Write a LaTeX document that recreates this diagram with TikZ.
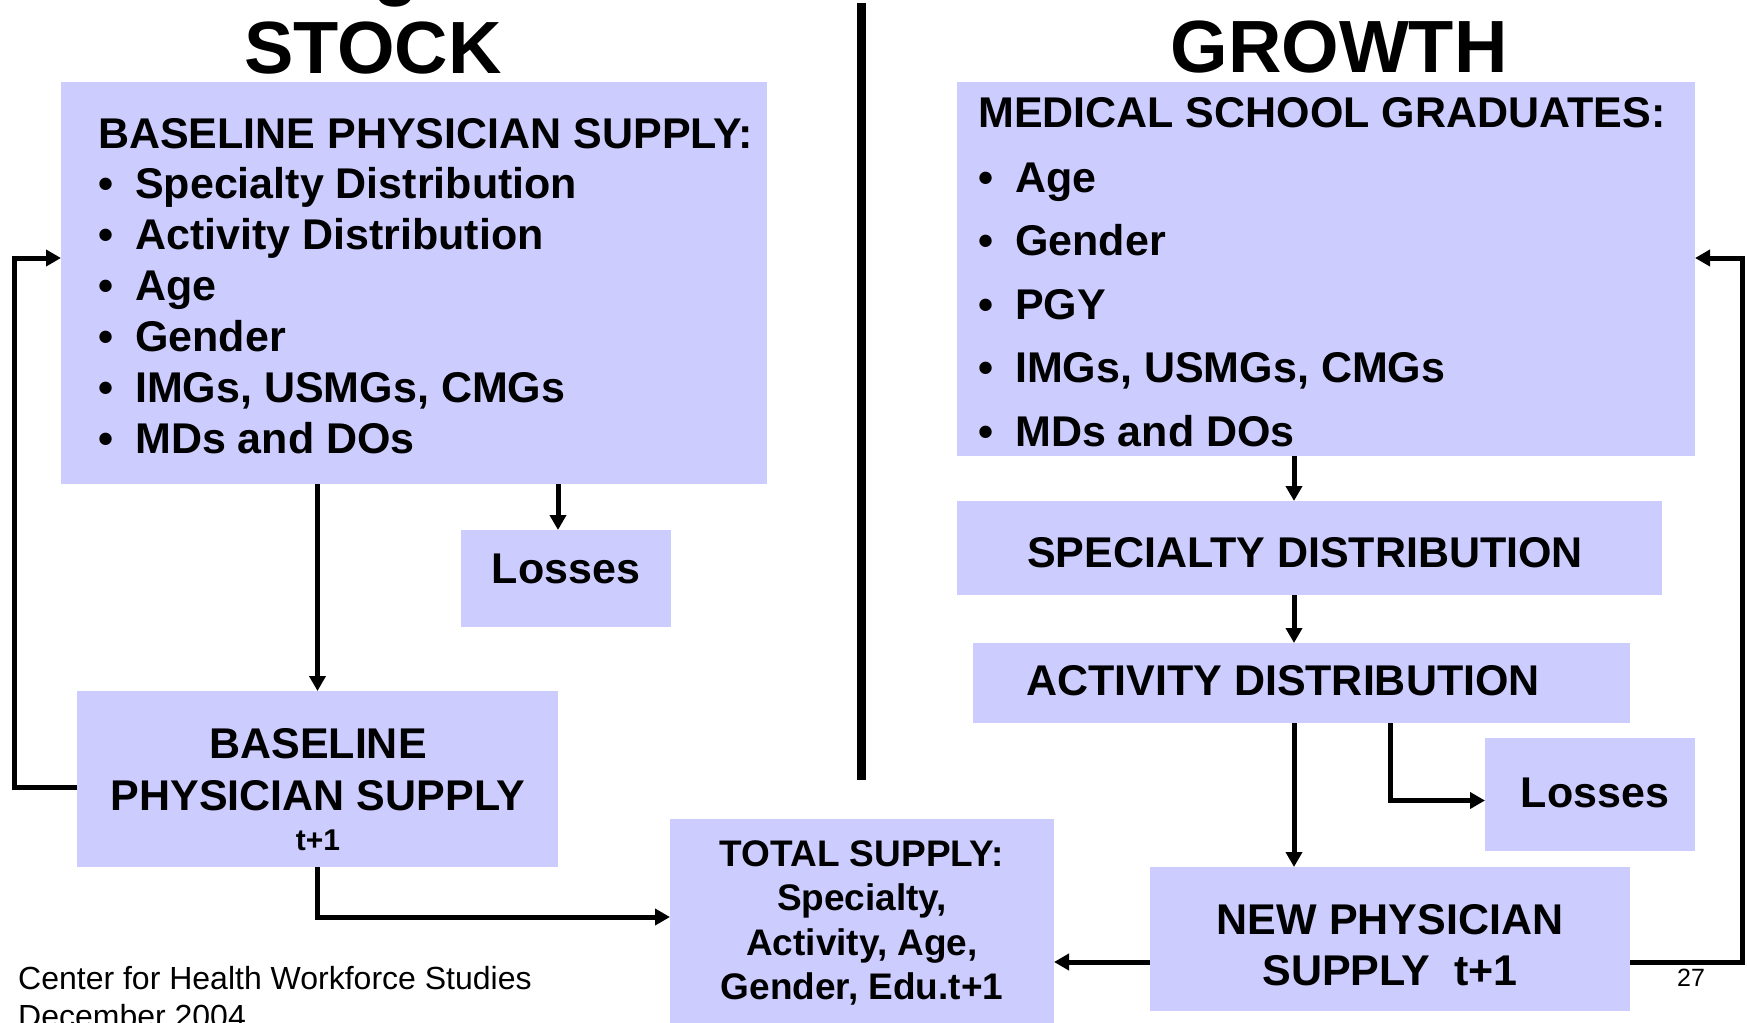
\documentclass[tikz,border=0pt]{standalone}
\usepackage{fontspec}
\setmainfont{Liberation Sans}
\usetikzlibrary{arrows.meta}
\definecolor{boxblue}{RGB}{204,204,255}

\newcommand{\bulletLine}[4]{% #1: node name
                            % #2, #3: base of the bullet
                            % #4: text
    \node (#1-dot) [lbl, at={(#2,#3)}] {\textbullet};
    \node (#1)     [lbl, at={(#2+37,#3)}] {#4};
   }

\tikzset{
  box/.style={fill=boxblue, inner sep=0pt, outer sep=0pt, anchor=north west},
  lbl/.style={font=\bfseries\fontsize{43}{50}\selectfont, inner sep=0pt, anchor=base west},
  mid/.style={lbl, anchor=base},
  small/.style={font=\bfseries\fontsize{37}{44}\selectfont, inner sep=0pt, anchor=base},
  title/.style={font=\bfseries\fontsize{74}{80}\selectfont, inner sep=0pt, anchor=base},
  arr/.style={line width=5pt, -{Triangle[length=15pt,width=16pt]}},
}

\begin{document}
\begin{tikzpicture}[x=1pt,y=-1pt]

\fill[white] (0,0) rectangle (1747,1022);
\useasboundingbox (0,0) rectangle (1747,1022);

\def\rowL{51};\def\rowR{63.5};

% headings
\node (gcut)   [title, at={(396,-8)}] {g};
\node (stock)  [title, at={(373,74)}] {STOCK};
\node (growth) [title, at={(1339,73)}] {GROWTH};
\coordinate (divtop) at (861,3);
\coordinate (divbot) at (861,780);
\draw[line width=9pt] (divtop)--(divbot);

% stock side
\node (base)  [box, minimum width=706pt, minimum height=402pt, at={(61,82)}] {};
\node (lossL) [box, minimum width=210pt, minimum height=97pt, at={(461,530)}] {};
\node (baseT) [box, minimum width=481pt, minimum height=176pt, at={(77,691)}] {};
\node (total) [box, minimum width=384pt, minimum height=210pt, at={(670,819)}] {};

\node (base-title) [lbl, at={(98,148)}] {BASELINE PHYSICIAN SUPPLY:};
\bulletLine{b1}{98}{198}{Specialty Distribution}
\bulletLine{b2}{98}{198+\rowL}{Activity Distribution}
\bulletLine{b3}{98}{198+2*\rowL}{Age}
\bulletLine{b4}{98}{198+3*\rowL}{Gender}
\bulletLine{b5}{98}{198+4*\rowL}{IMGs, USMGs, CMGs}
\bulletLine{b6}{98}{198+5*\rowL}{MDs and DOs}

\node (lossL-txt) [mid, at={(566,583)}] {Losses};
\node (baseT-1) [mid, at={(318,758)}] {BASELINE};
\node (baseT-2) [mid, at={(318,810)}] {PHYSICIAN SUPPLY};
\node (baseT-3) [mid, font=\bfseries\fontsize{30}{36}\selectfont, at={(318,850)}] {t+1};

\node (total-1) [small, at={(862,866)}] {TOTAL SUPPLY:};
\node (total-2) [small, at={(862,910)}] {Specialty,};
\node (total-3) [small, at={(862,955)}] {Activity, Age,};
\node (total-4) [small, at={(862,999)}] {Gender, Edu.t+1};

% growth side
\node (grad)  [box, minimum width=738pt, minimum height=374pt, at={(957,82)}] {};
\node (spec)  [box, minimum width=705pt, minimum height=94pt, at={(957,501)}] {};
\node (act)   [box, minimum width=657pt, minimum height=80pt, at={(973,643)}] {};
\node (lossR) [box, minimum width=210pt, minimum height=113pt, at={(1485,738)}] {};
\node (newp)  [box, minimum width=480pt, minimum height=144pt, at={(1150,867)}] {};

\node (grad-title) [lbl, at={(978,128)}] {MEDICAL SCHOOL GRADUATES:};
\bulletLine{g1}{978}{192}{Age}
\bulletLine{g2}{978}{192+\rowR}{Gender}
\bulletLine{g3}{978}{192+2*\rowR}{PGY}
\bulletLine{g4}{978}{192+3*\rowR}{IMGs, USMGs, CMGs}
\bulletLine{g5}{978}{192+4*\rowR}{MDs and DOs}

\node (spec-txt)  [lbl, at={(1027,567)}] {SPECIALTY DISTRIBUTION};
\node (act-txt)   [lbl, at={(1026,695)}] {ACTIVITY DISTRIBUTION};
\node (lossR-txt) [mid, at={(1595,807)}] {Losses};
\node (newp-1)    [mid, at={(1390,934)}] {NEW PHYSICIAN};
\node (newp-2)    [mid, at={(1390,985)}] {SUPPLY~~t+1};

% footer
\node (foot-1) [font=\fontsize{32}{38}\selectfont, inner sep=0pt, anchor=base west, at={(18,989)}] {Center for Health Workforce Studies};
\node (foot-2) [font=\fontsize{32}{38}\selectfont, inner sep=0pt, anchor=base west, at={(18,1027)}] {December 2004};
\node (pageno) [font=\fontsize{25}{30}\selectfont, inner sep=0pt, anchor=base, at={(1691,986)}] {27};

% connectors
\coordinate (loopL) at (14,258);
\coordinate (loopR) at (1742,258);
\coordinate (spine) at (1294,0);

\draw[arr] ([yshift=-8pt]baseT.west) -| (loopL) -- (loopL -| base.west);
\draw[arr] (base.south -| baseT.north) -- (baseT.north);
\draw[arr] ([xshift=-8pt]base.south -| lossL.north) -- ([xshift=-8pt]lossL.north);
\draw[arr] (baseT.south) |- ([yshift=7pt]total.west);

\draw[arr] (grad.south -| spine) -- (spec.north -| spine);
\draw[arr] (spec.south -| spine) -- (act.north -| spine);
\draw[arr] (act.south -| spine) -- (newp.north -| spine);
\draw[arr] (act.south -| newp.north) |- ([yshift=-6pt]lossR.west);
\draw[arr] ([yshift=-23pt]newp.west) -- ([yshift=-23pt]newp.west -| total.east);
\draw[arr] ([yshift=-23pt]newp.east) -| (loopR) -- (loopR -| grad.east);

\end{tikzpicture}
\end{document}
